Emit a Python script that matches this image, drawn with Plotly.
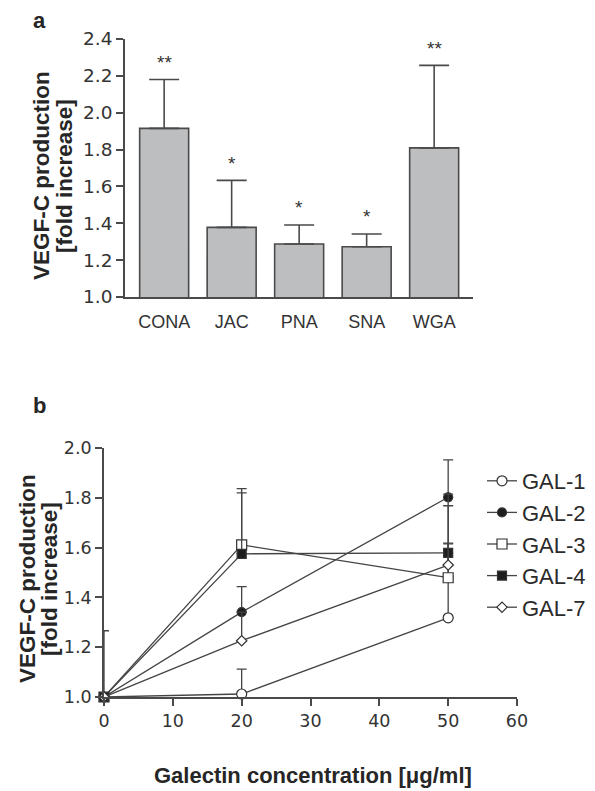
import plotly.graph_objects as go

# ---------------- data ----------------
lectins = ["CONA", "JAC", "PNA", "SNA", "WGA"]
lectin_mean = [1.915, 1.378, 1.288, 1.273, 1.809]
lectin_err = [0.265, 0.255, 0.103, 0.069, 0.448]
lectin_sig = ["**", "*", "*", "*", "**"]

conc = [0, 20, 50]
gal_names = ["GAL-1", "GAL-2", "GAL-3", "GAL-4", "GAL-7"]
gal1 = [1.0, 1.012, 1.318]
gal2 = [1.0, 1.341, 1.802]
gal3 = [1.0, 1.611, 1.479]
gal4 = [1.0, 1.575, 1.579]
gal7 = [1.0, 1.226, 1.530]
gal1_err = [0.266, 0.100, 0.450]
gal2_err = [0.0, 0.102, 0.150]
gal3_err = [0.0, 0.226, 0.336]
gal4_err = [0.0, 0.245, 0.036]
gal7_err = [0.0, 0.115, 0.088]

yticks_a = [1.0, 1.2, 1.4, 1.6, 1.8, 2.0, 2.2, 2.4]
yticks_b = [1.0, 1.2, 1.4, 1.6, 1.8, 2.0]
xticks_b = [0, 10, 20, 30, 40, 50, 60]

# ---------------- style ----------------
W, H = 595, 791
LINE = "#4a4a4a"
TXT = "#262626"
ARIAL = "Liberation Sans, Arial, sans-serif"
WIDE = "DejaVu Sans, sans-serif"

fig = go.Figure()

# panel a bars
fig.add_trace(go.Bar(
    x=lectins, y=lectin_mean, xaxis="x", yaxis="y",
    marker=dict(color="#bdbec0", line=dict(color=LINE, width=1.6)),
    error_y=dict(type="data", array=lectin_err, arrayminus=[0] * len(lectin_err),
                 symmetric=False, color=LINE, thickness=1.6, width=15),
    showlegend=False, hoverinfo="skip",
))

# panel b lines
series = [gal1, gal2, gal3, gal4, gal7]
errs = [gal1_err, gal2_err, gal3_err, gal4_err, gal7_err]
markers = [
    dict(symbol="circle", size=10, color="white"),
    dict(symbol="circle", size=9, color="#1e1e1e"),
    dict(symbol="square", size=10, color="white"),
    dict(symbol="square", size=9, color="#1e1e1e"),
    dict(symbol="diamond", size=8, color="white"),
]
for name, ys, er, mk in zip(gal_names, series, errs, markers):
    mk = dict(mk)
    mk["line"] = dict(color="#333333", width=1.2)
    fig.add_trace(go.Scatter(
        x=conc, y=ys, name=name, xaxis="x2", yaxis="y2",
        mode="lines+markers", cliponaxis=False,
        line=dict(color="#444444", width=1.3),
        marker=mk,
        error_y=dict(type="data", array=er, arrayminus=[0] * len(er),
                     symmetric=False, color="#444444", thickness=1.3, width=5),
    ))

# star annotations
annotations = []
for cat, m, e, s in zip(lectins, lectin_mean, lectin_err, lectin_sig):
    annotations.append(dict(
        x=cat, y=m + e, xref="x", yref="y", text=s, showarrow=False,
        yanchor="middle", yshift=17, font=dict(family=ARIAL, size=19, color="#333333"),
    ))

def paper(xpx, ypx):
    return xpx / W, 1 - ypx / H

def add_text(txt, px, py, size, angle=0):
    x, y = paper(px, py)
    annotations.append(dict(x=x, y=y, xref="paper", yref="paper", text=txt,
                            textangle=angle, showarrow=False,
                            xanchor="center", yanchor="middle",
                            font=dict(family=ARIAL, size=size, color=TXT)))

add_text("<b>a</b>", 31, 12, 22)
add_text("<b>b</b>", 31, 397, 22)

# y titles (two separate lines each for tighter line spacing)
for (x1, x2, yc) in [(33, 56, 168), (19, 41, 571)]:
    add_text("<b>VEGF-C production</b>", x1, yc, 22.5, -90)
    add_text("<b>[fold increase]</b>", x2, yc, 22.5, -90)

add_text("<b>Galectin concentration [\u03bcg/ml]</b>", 305, 767, 22)

axis_common = dict(showline=True, linecolor=LINE, linewidth=1.6, showgrid=False,
                   zeroline=False, ticks="outside", tickcolor=LINE, tickwidth=1.6, ticklen=7)

A_X0, A_STEP = 117, 67.5
A_LO, A_HI = -0.58, 4.58
fig.update_layout(
    width=W, height=H,
    margin=dict(l=0, r=0, t=0, b=0, autoexpand=False),
    paper_bgcolor="white", plot_bgcolor="white",
    bargap=0.274,
    xaxis=dict(domain=[A_X0 / W, (A_X0 + (A_HI - A_LO) * A_STEP) / W], range=[A_LO, A_HI],
               anchor="y", showline=True, linecolor=LINE, linewidth=1.6, showgrid=False,
               ticks="", ticklabelstandoff=8,
               tickfont=dict(family=ARIAL, size=18, color="#333333")),
    yaxis=dict(domain=[1 - 289 / H, 1 - 31 / H], range=[1.0, 2.4], anchor="x",
               tickvals=yticks_a, tickformat=".1f",
               tickfont=dict(family=WIDE, size=18.5, color="#333333"), **axis_common),
    xaxis2=dict(domain=[96 / W, 509 / W], range=[0, 60], anchor="y2",
                tickvals=xticks_b,
                tickfont=dict(family=WIDE, size=17.5, color="#333333"), **axis_common),
    yaxis2=dict(domain=[1 - 689 / H, 1 - 440 / H], range=[1.0, 2.0], anchor="x2",
                tickvals=yticks_b, tickformat=".1f",
                tickfont=dict(family=WIDE, size=17.5, color="#333333"), **axis_common),
    legend=dict(x=474 / W, y=1 - 452 / H, xanchor="left", yanchor="top",
                font=dict(family=ARIAL, size=22, color="#2b2b2b"),
                bgcolor="rgba(0,0,0,0)", borderwidth=0,
                tracegroupgap=0),
    annotations=annotations,
    showlegend=True,
)

fig.write_html("out.html")
